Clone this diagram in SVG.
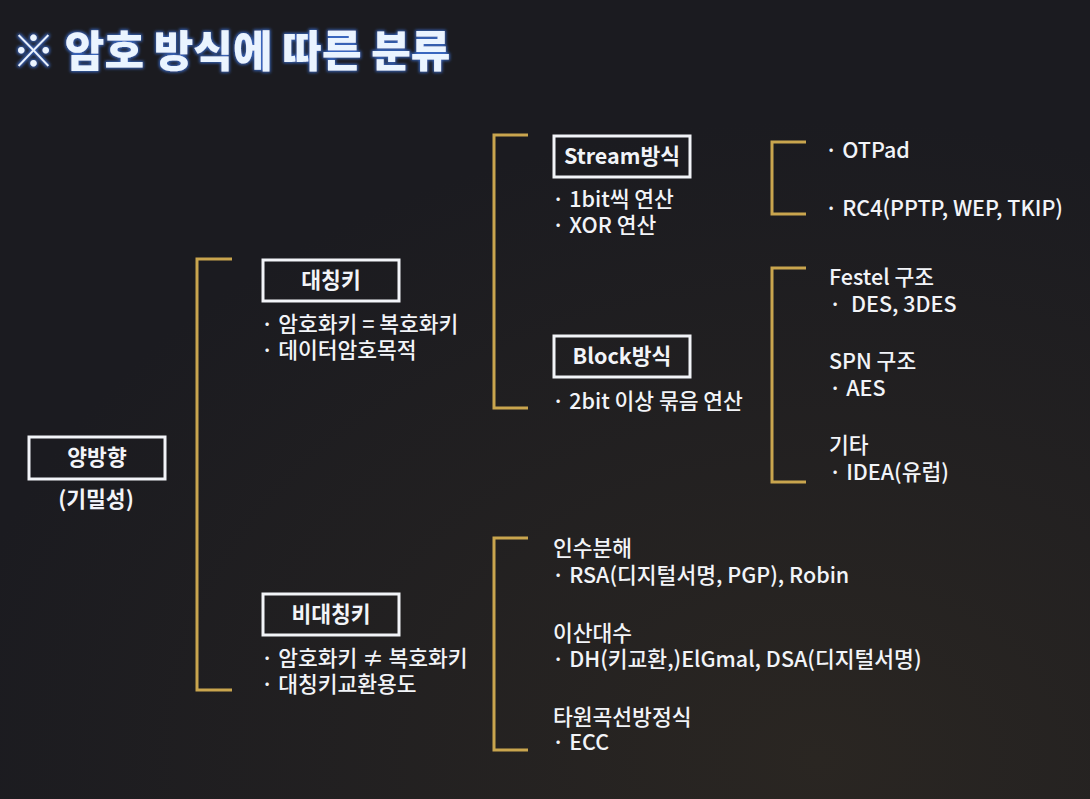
<svg xmlns="http://www.w3.org/2000/svg" width="1090" height="799" viewBox="0 0 1090 799">
<defs>
<radialGradient id="bg" cx="0.75" cy="0.95" r="0.8">
<stop offset="0" stop-color="#2a2622"/>
<stop offset="1" stop-color="#1b1b20"/>
</radialGradient>
<filter id="glow" x="-10%" y="-30%" width="120%" height="160%">
<feGaussianBlur in="SourceAlpha" stdDeviation="2"/>
<feFlood flood-color="#3a6fd0" flood-opacity="0.9"/>
<feComposite operator="in" in2="SourceAlpha"/>
<feMorphology operator="dilate" radius="1"/>
<feGaussianBlur stdDeviation="1.5"/>
<feMerge><feMergeNode/><feMergeNode in="SourceGraphic"/></feMerge>
</filter>
</defs>
<style>
text{font-family:"Noto Sans CJK KR","Noto Sans",sans-serif;fill:#f2f4f8;font-size:21.5px;font-weight:500}
.t{font-size:43px;font-weight:900;fill:#eaf4ff}
.bx{fill:none;stroke:#f2f4f8;stroke-width:3}
.bt{text-anchor:middle;font-size:21.5px;font-weight:600}
.br{fill:none;stroke:#c9a54e;stroke-width:3}
</style>
<rect width="1090" height="799" fill="url(#bg)"/>
<text class="t" x="12" y="67" filter="url(#glow)">※ 암호 방식에 따른 분류</text>
<g id="connectors">
<path class="br" d="M232,259 H197 V690 H232"/>
<path class="br" d="M528,135 H494 V408 H528"/>
<path class="br" d="M806,142 H772 V214 H806"/>
<path class="br" d="M806,268 H772 V482 H806"/>
<path class="br" d="M528,538 H494 V750 H528"/>
</g>
<g id="n-bidirectional">
<rect class="bx" x="29" y="437" width="136" height="42"/>
<text class="bt" x="97" y="465">양방향</text>
<text class="bt" x="96" y="507">(기밀성)</text>
</g>
<g id="n-symmetric">
<rect class="bx" x="263" y="260" width="136" height="41"/>
<text class="bt" x="331" y="288">대칭키</text>
<text x="261" y="332">· 암호화키 = 복호화키</text>
<text x="261" y="358">· 데이터암호목적</text>
</g>
<g id="n-asymmetric">
<rect class="bx" x="263" y="594" width="136" height="41"/>
<text class="bt" x="331" y="622">비대칭키</text>
<text x="261" y="666">· 암호화키 ≠ 복호화키</text>
<text x="261" y="692">· 대칭키교환용도</text>
</g>
<g id="n-stream">
<rect class="bx" x="554" y="136" width="136" height="41"/>
<text class="bt" x="622" y="164">Stream방식</text>
<text x="552" y="207">· 1bit씩 연산</text>
<text x="552" y="233">· XOR 연산</text>
</g>
<g id="n-block">
<rect class="bx" x="554" y="336" width="136" height="41"/>
<text class="bt" x="622" y="364">Block방식</text>
<text x="552" y="409">· 2bit 이상 묶음 연산</text>
</g>
<g id="n-stream-list">
<text x="825" y="158">· OTPad</text>
<text x="825" y="216">· RC4(PPTP, WEP, TKIP)</text>
</g>
<g id="n-block-list">
<text x="829" y="285">Festel 구조</text>
<text x="829" y="312" xml:space="preserve">·  DES, 3DES</text>
<text x="829" y="369">SPN 구조</text>
<text x="829" y="396">· AES</text>
<text x="829" y="453">기타</text>
<text x="829" y="480">· IDEA(유럽)</text>
</g>
<g id="n-asym-list">
<text x="553" y="556">인수분해</text>
<text x="552" y="583">· RSA(디지털서명, PGP), Robin</text>
<text x="553" y="641">이산대수</text>
<text x="552" y="667">· DH(키교환,)ElGmal, DSA(디지털서명)</text>
<text x="553" y="725">타원곡선방정식</text>
<text x="552" y="750">· ECC</text>
</g>
</svg>
